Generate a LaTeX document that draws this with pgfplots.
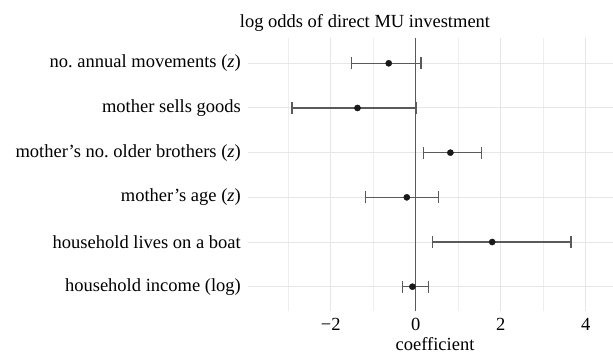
\documentclass[border=0pt]{standalone}
\usepackage{pgfplots}
\pgfplotsset{compat=1.18}
\usepackage{fontspec}
\setmainfont{Liberation Serif}
\frenchspacing
\definecolor{majgrid}{HTML}{E6E6E6}
\definecolor{mingrid}{HTML}{EEEEEE}
\definecolor{barcol}{HTML}{5A5A5A}
\begin{document}
\fontsize{18.5bp}{22bp}\selectfont
\begin{tikzpicture}[x=1bp,y=1bp]
\useasboundingbox (0,0) rectangle (613,353);
\begin{axis}[
  at={(248bp,42bp)}, anchor=south west,
  scale only axis, width=365bp, height=273bp,
  xmin=-3.946, xmax=4.642, ymin=0.456, ymax=6.566,
  axis line style={draw=none},
  major tick length=0pt, minor tick length=0pt,
  xtick={-2,0,2,4}, xticklabels={−2,0,2,4},
  minor xtick={-3,-1,1,3},
  ytick={1,2,3,4,5,6},
  yticklabels={household income (log), household lives on a boat, mother’s age (\textit{z}), mother’s no.\ older brothers (\textit{z}), mother sells goods, no.\ annual movements (\textit{z})},
  xmajorgrids, xminorgrids, ymajorgrids,
  major grid style={majgrid, line width=1bp},
  minor grid style={mingrid, line width=1bp},
  xticklabel style={anchor=north, inner sep=0pt, yshift=-7bp},
  yticklabel style={anchor=east, inner sep=0pt, xshift=-7bp},
  tick label style={font=\fontsize{18.5bp}{22bp}\selectfont},
  clip=false,
]
\addplot[barcol, line width=1.3bp, forget plot] coordinates {(0,0.456) (0,6.566)};
\addplot[only marks, mark=*, mark size=3.1bp, black!90,
  error bars/.cd, x dir=both, x explicit,
  error bar style={barcol, line width=1.3bp},
  error mark options={barcol, mark size=6bp, line width=1.3bp, rotate=90}]
coordinates {
  (-0.078,1) -= (0.232,0) += (0.378,0)
  (1.80,2) -= (1.40,0) += (1.85,0)
  (-0.21,3) -= (0.97,0) += (0.74,0)
  (0.816,4) -= (0.626,0) += (0.724,0)
  (-1.37,5) -= (1.54,0) += (1.394,0)
  (-0.635,6) -= (0.875,0) += (0.76,0)
};
\end{axis}
\node[anchor=base, inner sep=0pt] at (365,326) {log odds of direct MU investment};
\node[anchor=base, inner sep=0pt] at (435,3) {coefficient};
\end{tikzpicture}
\end{document}
